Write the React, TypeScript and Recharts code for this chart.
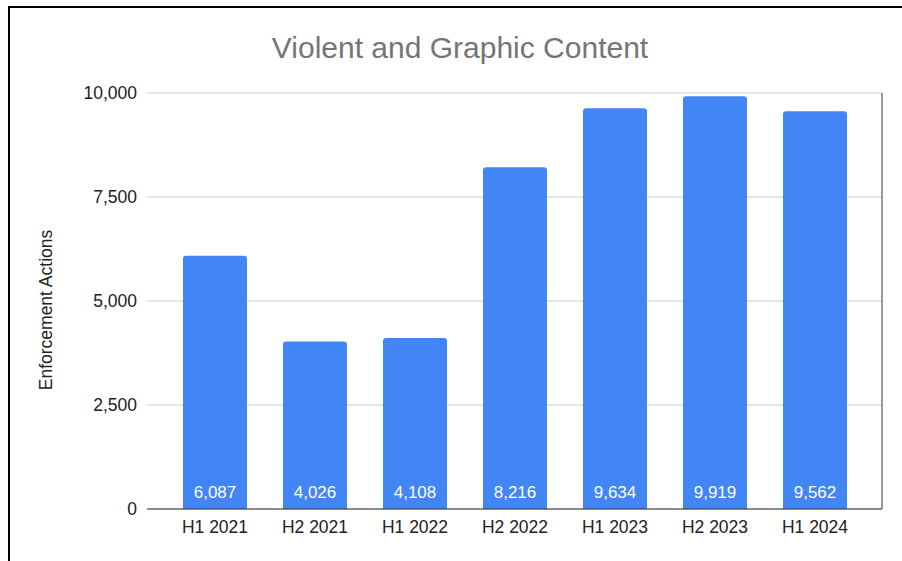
import React from 'react';
import { BarChart, Bar, XAxis, YAxis, CartesianGrid, LabelList } from 'recharts';

const periods = ['H1 2021', 'H2 2021', 'H1 2022', 'H2 2022', 'H1 2023', 'H2 2023', 'H1 2024'];
const actions = [6087, 4026, 4108, 8216, 9634, 9919, 9562];
const yTicks = [0, 2500, 5000, 7500, 10000];

const data = periods.map((p, i) => ({ period: p, actions: actions[i] }));

const FONT = '"Liberation Sans", Arial, sans-serif';
const fmt = (v: number) => v.toLocaleString('en-US');

const App: React.FC = () => {
  return (
    <div style={{ position: 'absolute', left: 0, top: 0, width: 902, height: 561, background: '#fff', overflow: 'hidden' }}>
      <div
        style={{
          position: 'absolute',
          left: 8,
          top: 6,
          width: 920,
          height: 600,
          borderTop: '2px solid #000',
          borderLeft: '2px solid #000',
        }}
      />
      <div style={{ position: 'absolute', left: 0, top: 0 }}>
        <BarChart
          width={902}
          height={561}
          data={data}
          margin={{ top: 93, right: 19, bottom: 12, left: 0 }}
          barCategoryGap="18%"
        >
          <text
            x={460}
            y={58}
            textAnchor="middle"
            style={{ fontFamily: FONT, fontSize: 30, fill: '#757575' }}
          >
            Violent and Graphic Content
          </text>
          <text
            transform="translate(52, 310) rotate(-90)"
            textAnchor="middle"
            style={{ fontFamily: FONT, fontSize: 17.5, fill: '#222' }}
          >
            Enforcement Actions
          </text>
          <CartesianGrid vertical={false} stroke="#cccccc" />
          <XAxis
            dataKey="period"
            height={40}
            padding={{ left: 18, right: 17 }}
            axisLine={{ stroke: '#333' }}
            tickLine={false}
            tickMargin={6}
            tick={{ fill: '#222', fontSize: 17.5, fontFamily: FONT }}
          />
          <YAxis
            width={147}
            domain={[0, 10000]}
            ticks={yTicks}
            tickFormatter={fmt}
            axisLine={false}
            tickLine={false}
            tickMargin={4}
            tick={{ fill: '#222', fontSize: 17.5, fontFamily: FONT }}
          />
          {/* dark right edge of the plot area */}
          <YAxis
            yAxisId="frame"
            orientation="right"
            type="number"
            domain={[0, 10000]}
            width={1}
            tick={false}
            tickLine={false}
            axisLine={{ stroke: '#333' }}
          />
          <Bar dataKey="actions" fill="#4285F4" radius={[3, 3, 0, 0]} isAnimationActive={false}>
            <LabelList
              dataKey="actions"
              position="insideBottom"
              offset={11}
              formatter={(v: number) => fmt(v)}
              style={{ fill: '#fff', fontSize: 17, fontFamily: FONT }}
            />
          </Bar>
        </BarChart>
      </div>
    </div>
  );
};

export default App;
